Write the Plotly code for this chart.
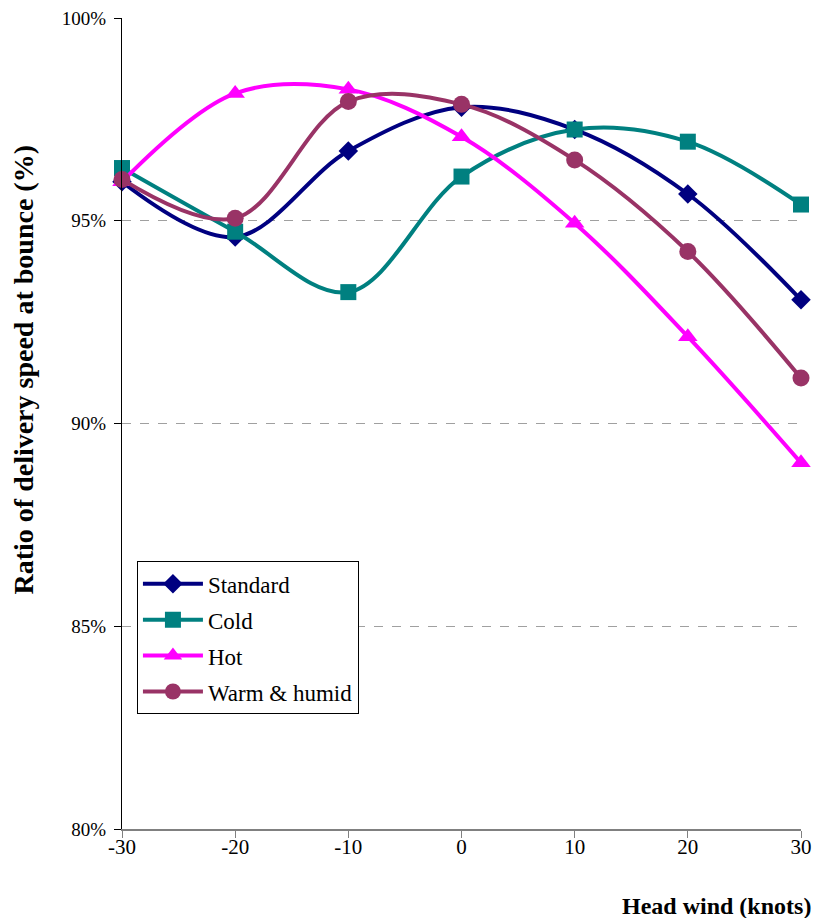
import plotly.graph_objects as go

# Head wind (knots) and ratio of delivery speed at bounce (%)
head_wind = [-30, -20, -10, 0, 10, 20, 30]
standard = [95.96, 94.60, 96.72, 97.80, 97.25, 95.66, 93.05]
cold = [96.30, 94.73, 93.24, 96.09, 97.25, 96.95, 95.40]
hot = [95.96, 98.14, 98.24, 97.07, 94.94, 92.14, 89.03]
warm_humid = [96.02, 95.06, 97.94, 97.87, 96.50, 94.24, 91.12]

y_ticks = [80, 85, 90, 95, 100]
y_tick_labels = ["80%", "85%", "90%", "95%", "100%"]
x_ticks = [-30, -20, -10, 0, 10, 20, 30]
x_tick_labels = ["-30", "-20", "-10", "0", "10", "20", "30"]

series = [
    ("Standard", standard, "#000080", "diamond", 15),
    ("Cold", cold, "#008080", "square", 16),
    ("Hot", hot, "#FF00FF", "triangle-up", 17),
    ("Warm & humid", warm_humid, "#993366", "circle", 17),
]

font_family = "Liberation Serif, Times New Roman, serif"

fig = go.Figure()
for name, vals, color, symbol, size in series:
    fig.add_trace(go.Scatter(
        x=head_wind, y=vals, name=name, legendgroup=name,
        mode="lines+markers",
        line=dict(color=color, width=4, shape="spline", smoothing=1),
        marker=dict(symbol=symbol, size=size, color=color),
        cliponaxis=False,
    ))

fig.update_layout(
    width=816, height=918,
    margin=dict(l=122, r=15, t=18, b=89, autoexpand=False),
    paper_bgcolor="white", plot_bgcolor="white",
    font=dict(family=font_family, size=18, color="black"),
    showlegend=True,
    legend=dict(
        x=0.022, y=0.33, xanchor="left", yanchor="top",
        bgcolor="white", bordercolor="black", borderwidth=1,
        font=dict(size=23, family=font_family),
        tracegroupgap=3, itemwidth=60,
    ),
    xaxis=dict(
        range=[-30, 30], tickvals=x_ticks, ticktext=x_tick_labels,
        showgrid=False, zeroline=False, automargin=False,
        showline=True, linecolor="#808080", linewidth=2,
        ticks="outside", ticklen=7, tickcolor="#808080", tickwidth=1,
        tickfont=dict(size=21), ticklabelstandoff=-9,
    ),
    yaxis=dict(
        range=[80, 100], tickvals=y_ticks, ticktext=y_tick_labels,
        showgrid=True, gridcolor="#A0A0A0", griddash="dash", gridwidth=1,
        zeroline=False, automargin=False,
        showline=True, linecolor="black", linewidth=1,
        ticks="outside", ticklen=7, tickcolor="black",
        tickfont=dict(size=19), ticklabelstandoff=4,
    ),
    annotations=[
        dict(text="<b>Head wind (knots)</b>", xref="paper", yref="paper",
             x=1.018, y=-0.095, xanchor="right", yanchor="middle",
             showarrow=False, font=dict(size=24)),
        dict(text="<b>Ratio of delivery speed at bounce (%)</b>", xref="paper", yref="paper",
             x=-0.145, y=0.566, xanchor="center", yanchor="middle", textangle=-90,
             showarrow=False, font=dict(size=28)),
    ],
)

fig.write_html("out.html")
